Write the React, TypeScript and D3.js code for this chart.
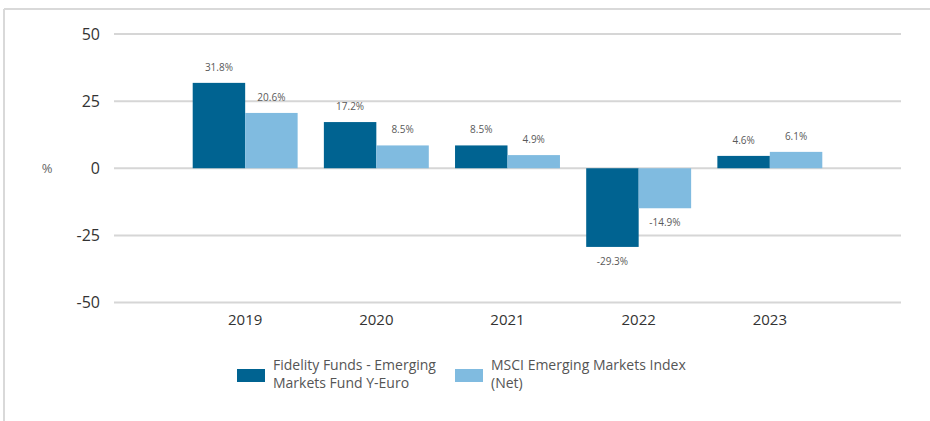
import React from "react";
import * as d3 from "d3";

const years = ["2019", "2020", "2021", "2022", "2023"];
const fundValues = [31.8, 17.2, 8.5, -29.3, 4.6];
const indexValues = [20.6, 8.5, 4.9, -14.9, 6.1];
const yTicks = [50, 25, 0, -25, -50];
const seriesNames = [
  ["Fidelity Funds - Emerging", "Markets Fund Y-Euro"],
  ["MSCI Emerging Markets Index", "(Net)"],
];
const colors = ["#006391", "#80bbe0"];

const W = 930;
const H = 421;
const FONT = "'Open Sans', 'DejaVu Sans', sans-serif";

export default function App() {
  const plotLeft = 114;
  const plotRight = 901;
  const y = d3.scaleLinear().domain([-50, 50]).range([302.5, 34]);
  const step = (plotRight - plotLeft) / (years.length + 1);
  const x = d3
    .scaleBand<string>()
    .domain(years)
    .range([plotLeft + step / 2, plotRight - step / 2])
    .paddingInner(0.2)
    .paddingOuter(0.1);
  const sub = d3
    .scaleBand<number>()
    .domain([0, 1])
    .range([0, x.bandwidth()]);
  const series = [fundValues, indexValues];
  const fmt = (v: number) => `${v.toFixed(1)}%`;

  return (
    <div style={{ position: "fixed", left: 0, top: 0 }}>
      <svg width={W} height={H} style={{ display: "block", background: "#fff" }}>
        {/* frame */}
        <line x1={4} x2={W} y1={9} y2={9} stroke="#d9d9d9" strokeWidth={2} />
        <line x1={4} x2={4} y1={9} y2={H} stroke="#d9d9d9" strokeWidth={2} />

        {/* gridlines and y ticks */}
        {yTicks.map((t) => (
          <g key={t}>
            <line
              x1={plotLeft}
              x2={plotRight}
              y1={y(t)}
              y2={y(t)}
              stroke="#d6d6d6"
              strokeWidth={2}
            />
            <text
              x={100}
              y={y(t)}
              dy="0.35em"
              textAnchor="end"
              fontFamily={FONT}
              fontSize={16}
              fill="#333"
            >
              {t}
            </text>
          </g>
        ))}
        <text
          x={47}
          y={y(0)}
          dy="0.35em"
          textAnchor="middle"
          fontFamily={FONT}
          fontSize={13}
          fill="#666"
        >
          %
        </text>

        {/* bars */}
        {years.map((yr, i) => (
          <g key={yr} transform={`translate(${x(yr)},0)`}>
            {series.map((vals, s) => {
              const v = vals[i];
              const y0 = y(Math.max(0, v));
              const h = Math.abs(y(v) - y(0));
              const bx = sub(s)!;
              const cx = bx + sub.bandwidth() / 2;
              return (
                <g key={s}>
                  <rect
                    x={bx}
                    y={y0}
                    width={sub.bandwidth()}
                    height={h}
                    fill={colors[s]}
                  />
                  <text
                    x={cx}
                    y={v >= 0 ? y(v) - 12 : y(v) + 18}
                    textAnchor="middle"
                    fontFamily={FONT}
                    fontSize={10}
                    fill="#595959"
                  >
                    {fmt(v)}
                  </text>
                </g>
              );
            })}
            <text
              x={x.bandwidth() / 2}
              y={320}
              dy="0.35em"
              textAnchor="middle"
              fontFamily={FONT}
              fontSize={15}
              fill="#333"
            >
              {yr}
            </text>
          </g>
        ))}

        {/* legend */}
        {seriesNames.map((lines, s) => {
          const lx = s === 0 ? 237 : 455;
          return (
            <g key={s}>
              <rect x={lx} y={369} width={28} height={13} fill={colors[s]} />
              {lines.map((ln, j) => (
                <text
                  key={j}
                  x={lx + 36}
                  y={365 + j * 18.5}
                  dy="0.35em"
                  fontFamily={FONT}
                  fontSize={14}
                  fill="#555"
                >
                  {ln}
                </text>
              ))}
            </g>
          );
        })}
      </svg>
    </div>
  );
}
